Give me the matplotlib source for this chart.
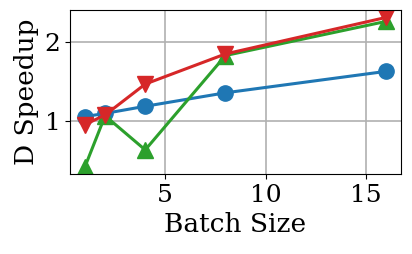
import matplotlib
matplotlib.use("Agg")
import matplotlib.pyplot as plt

batch = [1, 2, 4, 8, 16]
blue = [1.06, 1.10, 1.19, 1.36, 1.63]
green = [0.43, 1.07, 0.64, 1.83, 2.26]
red = [0.96, 1.08, 1.47, 1.85, 2.31]

plt.rcParams['font.family'] = 'DejaVu Serif'
fig = plt.figure(figsize=(4.12, 2.54), dpi=100)
ax = fig.add_axes([70/412, 1-174/254, (401-70)/412, (174-10)/254])
ax.plot(batch, blue, color='#1f77b4', marker='o', lw=2.2, ms=11)
ax.plot(batch, green, color='#2ca02c', marker='^', lw=2.2, ms=11)
ax.plot(batch, red, color='#d62728', marker='v', lw=2.2, ms=11)
ax.set_xticks([5, 10, 15])
ax.set_yticks([1, 2])
ax.tick_params(labelsize=18)
ax.set_xlabel('Batch Size', fontsize=19)
ax.set_ylabel('D Speedup', fontsize=19)
ax.grid(True, color='#b0b0b0', lw=1.2)
fig.savefig('out.png', dpi=100)
